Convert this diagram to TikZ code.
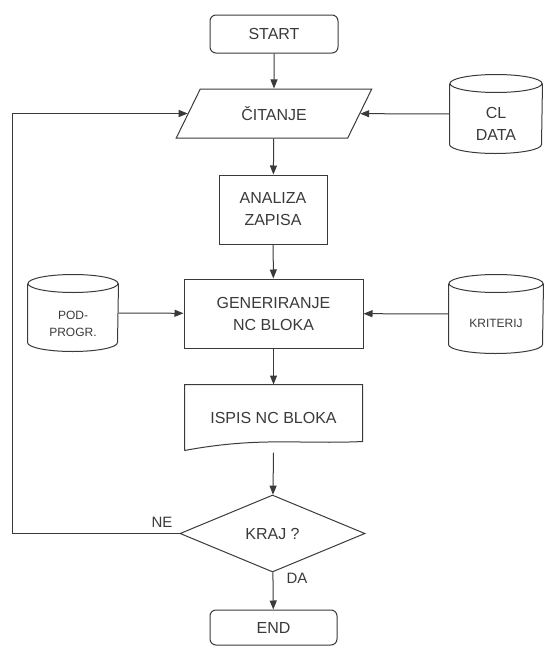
\documentclass[tikz,border=0pt]{standalone}
\usepackage{fontspec}
\setmainfont{Liberation Sans}
\usetikzlibrary{shapes.geometric,arrows.meta}
\definecolor{ink}{HTML}{3A3A3A}
\tikzset{
  base/.style={draw=ink, line width=1pt, text=ink, inner sep=0pt, align=center,
    font=\fontsize{16}{22}\selectfont},
  termbox/.style={base, rounded corners=6pt},
  procbox/.style={base, rectangle},
  iobox/.style={base, trapezium, trapezium left angle=53, trapezium right angle=127,
    trapezium stretches=true},
  dbbox/.style={base, draw=none, rectangle},
  docbox/.style={base, draw=none, rectangle},
  decbox/.style={base, diamond},
  arr/.style={draw=ink, line width=1pt, -{Triangle[length=9pt,width=7pt]}},
  ln/.style={draw=ink, line width=1pt},
  lbl/.style={text=ink, font=\fontsize{15}{18}\selectfont, inner sep=0pt},
  cyltext/.style={text=ink, inner sep=0pt, align=center, font=\fontsize{16}{22}\selectfont},
  smalltext/.style={cyltext, font=\fontsize{12}{17}\selectfont}
}
% draws a cylinder outline around rectangle node #1 with half width #2
\newcommand\cyldraw[2]{%
  \draw[ln] ([yshift=-9pt]#1.north) ellipse [x radius=#2, y radius=9pt];
  \draw[ln] ([yshift=-9pt]#1.north west) -- ([yshift=9pt]#1.south west)
    arc[start angle=180, end angle=360, x radius=#2, y radius=9pt]
    -- ([yshift=-9pt]#1.north east);
}
\begin{document}
\begin{tikzpicture}[x=1pt,y=-1pt]
\useasboundingbox (0,0) rectangle (544,648);
\node[termbox, minimum width=128pt, minimum height=38pt] (start) at (274,34) {START};
\node[iobox, minimum width=196pt, minimum height=49pt] (cit) at (274,113.5) {ČITANJE};
\node[dbbox, minimum width=92pt, minimum height=78pt] (cl) at (496,114) {};
\cyldraw{cl}{46pt}
\node[cyltext] (cltxt) at (496,124) {CL\\DATA};
\node[procbox, minimum width=108pt, minimum height=69pt] (ana) at (273,209.5) {ANALIZA\\ZAPISA};
\node[procbox, minimum width=179pt, minimum height=69pt] (gen) at (273.5,313.5) {GENERIRANJE\\NC BLOKA};
\node[dbbox, minimum width=90pt, minimum height=76pt] (pod) at (73,313) {};
\cyldraw{pod}{45pt}
\node[smalltext] (podtxt) at (73,324) {POD-\\PROGR.};
\node[dbbox, minimum width=94pt, minimum height=78pt] (kri) at (496,314) {};
\cyldraw{kri}{47pt}
\node[smalltext] (kritxt) at (496,323) {KRITERIJ};
\node[docbox, minimum width=177pt, minimum height=65pt] (isp) at (273.5,417.5) {ISPIS NC BLOKA};
\draw[ln] (isp.south west) -- (isp.north west) -- (isp.north east) -- ([yshift=9pt]isp.south east)
  .. controls +(-62,3) and +(75,-14) .. (isp.south west);
\node[decbox, minimum width=185pt, minimum height=77pt] (dec) at (272.5,533.5) {KRAJ ?};
\node[termbox, minimum width=127pt, minimum height=35pt] (fin) at (273.5,627.5) {END};
\coordinate (lp) at (12,533.5);
\node[lbl] (ne) at (162,522) {NE};
\node[lbl] (da) at (297,578) {DA};
\draw[arr] (start) -- (cit);
\draw[arr] (cl) -- (cit);
\draw[arr] (cit) -- (ana);
\draw[arr] (ana) -- (gen);
\draw[arr] (pod) -- (gen);
\draw[arr] (kri) -- (gen);
\draw[arr] (gen) -- (isp);
\draw[arr] ([yshift=-2pt]isp.south) -- (dec);
\draw[arr] (dec) -- (fin);
\draw[arr] (dec.west) -- (lp) |- (cit);
\end{tikzpicture}
\end{document}
